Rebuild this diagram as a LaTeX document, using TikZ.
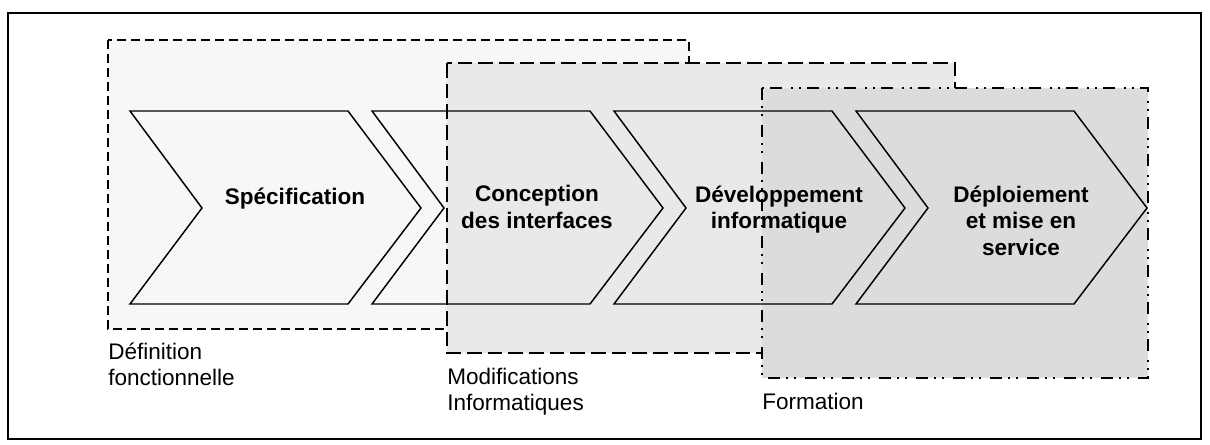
\documentclass[tikz,border=0pt]{standalone}
\usepackage{fontspec}
\setmainfont{Liberation Sans}
\definecolor{fondA}{HTML}{F7F7F7}
\definecolor{fondB}{HTML}{E9E9E9}
\definecolor{fondC}{HTML}{DCDCDC}
\tikzset{
  phasebox/.style={line width=1.5pt},
  chevron/.style={line width=1.1pt,line join=miter},
  % le \strut fixe la hauteur de la premiere ligne
  chevtext/.style={font=\fontsize{16.9}{20}\selectfont\bfseries,align=center,anchor=north,inner sep=0pt,execute at begin node=\strut},
  phaselabel/.style={font=\fontsize{16.9}{19.5}\selectfont,align=left,anchor=north west,inner sep=0pt,execute at begin node=\strut}
}
\begin{document}
\begin{tikzpicture}[x=0.75pt,y=-0.75pt]
	\useasboundingbox (0,0) rectangle (1210,444);
	\draw[line width=2pt] (8,13) rectangle (1201,439);
	% les trois phases, chacune recouvre la precedente
	\draw[phasebox,fill=fondA,dash pattern=on 6.75pt off 3.75pt] (108,40) rectangle (689,329);
	\draw[phasebox,fill=fondB,dash pattern=on 11pt off 4.5pt] (447,63) rectangle (955,353);
	\draw[phasebox,fill=fondC,dash pattern=on 9pt off 4.5pt on 1.5pt off 4.5pt on 1.5pt off 6.75pt] (762,88) rectangle (1148,378);
	\node[phaselabel] (deflab) at (108,343) {Définition\\fonctionnelle};
	\node[phaselabel] (modlab) at (447,368) {Modifications\\Informatiques};
	\node[phaselabel] (formlab) at (762,391) {Formation};
	% les chevrons, pas de 242
	\foreach \L/\nom/\txt in {130/spec/{Spécification},372/conc/{Conception\\des interfaces},614/dev/{Développement\\informatique},856/depl/{Déploiement\\et mise en\\service}}{
		\draw[chevron] (\L,111) -- ++(218,0) -- ++(73,97) -- ++(-73,96) -- ++(-218,0) -- ++(72,-96) -- cycle;
		\node[chevtext] (\nom) at ({\L+165},185.3) {\txt};
	}
\end{tikzpicture}
\end{document}
